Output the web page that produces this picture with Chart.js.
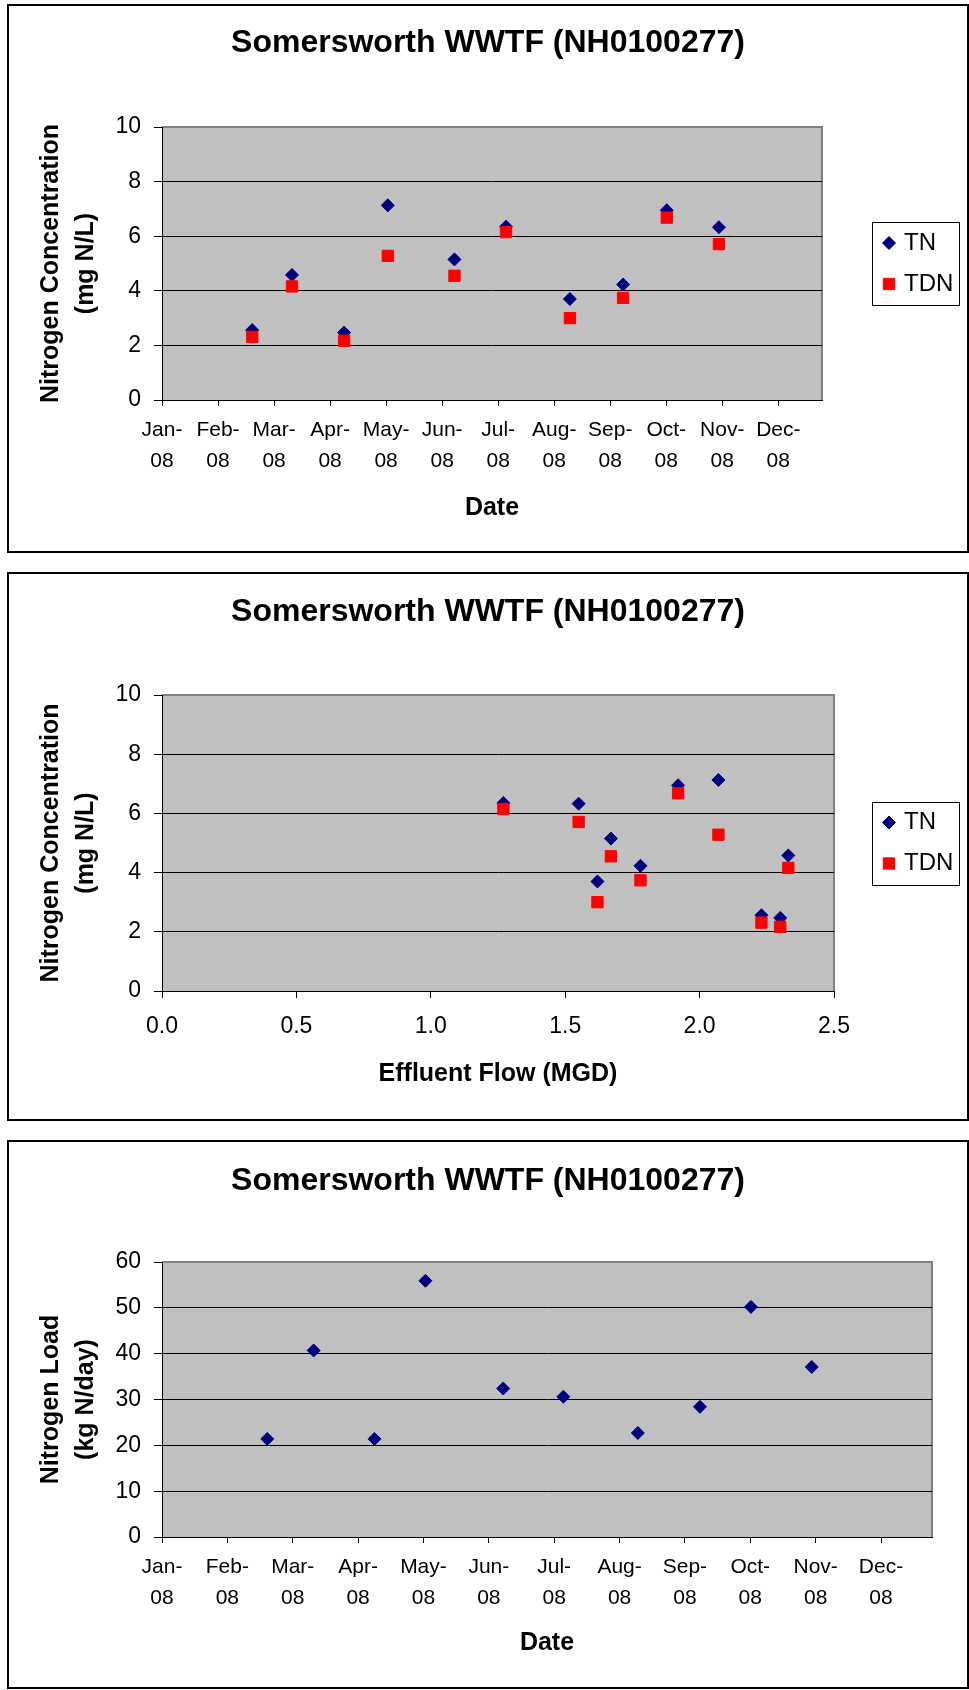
<!DOCTYPE html>
<html>
<head>
<meta charset="utf-8">
<title>Somersworth WWTF (NH0100277)</title>
<script src="https://cdn.jsdelivr.net/npm/chart.js"></script>
<style>
  body { margin: 0; background: #fff; width: 969px; height: 1690px; position: relative; overflow: hidden; }
  .box { position: absolute; left: 7px; width: 958px; height: 545px; border: 2px solid #000; background: #fff; }
  .box canvas { display: block; }
</style>
</head>
<body>
<div class="box" style="top:4px"><canvas id="concDate" width="958" height="545"></canvas></div>
<div class="box" style="top:572px"><canvas id="concFlow" width="958" height="545"></canvas></div>
<div class="box" style="top:1140px"><canvas id="loadDate" width="958" height="545"></canvas></div>
<script>
// Data (one value per monthly sample, Feb..Nov 2008)
const monthLabels = ['Jan-08', 'Feb-08', 'Mar-08', 'Apr-08', 'May-08', 'Jun-08',
                     'Jul-08', 'Aug-08', 'Sep-08', 'Oct-08', 'Nov-08', 'Dec-08'];
// sample date, as months after 1 Jan 2008
const sampleMonth = [1.61, 2.32, 3.25, 4.03, 5.22, 6.14, 7.28, 8.23, 9.01, 9.94];
const tnConc = [2.56, 4.58, 2.47, 7.13, 5.15, 6.35, 3.70, 4.23, 6.95, 6.33];
const tdnConc = [2.31, 4.16, 2.17, 5.28, 4.55, 6.15, 3.00, 3.74, 6.68, 5.71];
const effluentFlow = [2.23, 2.33, 2.30, 2.07, 1.67, 1.27, 1.62, 1.78, 1.92, 1.55];
const tnLoad = [21.4, 40.7, 21.4, 55.9, 32.4, 30.6, 22.7, 28.4, 50.2, 37.1];

const FONT = '"Liberation Sans", Arial, sans-serif';
const TITLE = 'Somersworth WWTF (NH0100277)';
const TITLE_SIZE = 32;

// Grey plot area with a grey frame on top and right (Excel 2003 look)
const plotBackground = {
    id: 'plotBackground',
    beforeDraw(chart) {
        const { ctx, chartArea: a } = chart;
        ctx.save();
        ctx.fillStyle = '#c0c0c0';
        ctx.fillRect(a.left, a.top, a.width, a.height);
        ctx.strokeStyle = '#808080';
        ctx.lineWidth = 2;
        ctx.beginPath();
        ctx.moveTo(a.left, a.top);
        ctx.lineTo(a.right, a.top);
        ctx.lineTo(a.right, a.bottom);
        ctx.stroke();
        ctx.restore();
    }
};

// Boxed legend at the right, centred on the plot area
const boxLegend = {
    id: 'boxLegend',
    afterDraw(chart, args, opts) {
        if (!opts.display) return;
        const { ctx, chartArea: a } = chart;
        const sets = chart.data.datasets;
        const cy = (a.top + a.bottom) / 2;
        ctx.save();
        ctx.strokeStyle = '#000';
        ctx.lineWidth = 1;
        ctx.strokeRect(opts.left + 0.5, Math.round(cy - opts.height / 2) + 0.5, opts.width, opts.height);
        ctx.font = opts.fontSize + 'px ' + FONT;
        ctx.textBaseline = 'middle';
        ctx.textAlign = 'left';
        sets.forEach((ds, i) => {
            const y = cy + (i - (sets.length - 1) / 2) * opts.rowHeight;
            ctx.fillStyle = ds.backgroundColor;
            ctx.strokeStyle = ds.borderColor;
            Chart.helpers.drawPoint(ctx, { pointStyle: ds.pointStyle, radius: ds.pointRadius, borderWidth: 1 },
                opts.left + 17, y);
            ctx.fillStyle = '#000';
            ctx.fillText(ds.label, opts.left + 32, y);
        });
        ctx.restore();
    }
};

function tnSet(xs, ys) {
    return {
        label: 'TN',
        data: ys.map((v, i) => ({ x: xs[i], y: v })),
        pointStyle: 'rectRot', pointRadius: 6.5,
        backgroundColor: '#000080', borderColor: '#000080', borderWidth: 1,
        order: 2
    };
}

function tdnSet(xs, ys) {
    return {
        label: 'TDN',
        data: ys.map((v, i) => ({ x: xs[i], y: v })),
        pointStyle: 'rect', pointRadius: 8,
        backgroundColor: '#ff0000', borderColor: '#ff0000', borderWidth: 1,
        order: 1
    };
}

function monthTick(v) {
    const s = monthLabels[Math.round(v)];
    if (!s) return '';
    const parts = s.split('-');
    return [parts[0] + '-', parts[1]];
}

// Common options; o holds the per-chart layout numbers
function makeOptions(o) {
    const titleLh = TITLE_SIZE * 1.2;
    const titleTop = o.titleY - titleLh / 2;
    return {
        responsive: false,
        animation: false,
        devicePixelRatio: 1,
        events: [],
        layout: { padding: { left: 10, right: 10, top: 0, bottom: 10 } },
        plugins: {
            legend: { display: false },
            tooltip: { enabled: false },
            title: {
                display: true,
                text: TITLE,
                color: '#000',
                font: { family: FONT, size: TITLE_SIZE, weight: 'bold', lineHeight: 1.2 },
                padding: { top: titleTop, bottom: o.plotTop - titleTop - titleLh }
            },
            boxLegend: { display: !!o.legend, left: 863, width: 87, height: 83, rowHeight: 41, fontSize: 24 }
        },
        scales: {
            x: {
                type: 'linear',
                min: o.xMin,
                max: o.xMax,
                afterFit: s => { s.height = o.xHeight; },
                border: { display: true, color: '#000', width: 1 },
                grid: { drawOnChartArea: false, drawTicks: true, tickLength: o.xTickLen, tickColor: '#000', color: '#000' },
                ticks: {
                    stepSize: o.xStep,
                    includeBounds: false,
                    autoSkip: false,
                    maxRotation: 0,
                    padding: o.xTickPad,
                    color: '#000',
                    font: { family: FONT, size: o.xTickSize, lineHeight: o.xTickLh },
                    callback: o.xCallback
                },
                title: {
                    display: true,
                    text: o.xTitle,
                    color: '#000',
                    font: { family: FONT, size: 25, weight: 'bold', lineHeight: 1.2 },
                    padding: { top: 0, bottom: o.xTitlePad }
                }
            },
            y: {
                min: 0,
                max: o.yMax,
                afterFit: s => { s.width = 143; },
                border: { display: true, color: '#000', width: 1 },
                grid: {
                    color: c => (c.tick && c.tick.value === o.yMax ? '#808080' : '#000'),
                    tickColor: '#000',
                    tickLength: 8,
                    lineWidth: 1
                },
                ticks: { stepSize: o.yStep, padding: 13, color: '#000', font: { family: FONT, size: 23 } },
                title: {
                    display: true,
                    text: o.yTitle,
                    color: '#000',
                    font: { family: FONT, size: 25, weight: 'bold', lineHeight: 1.4 },
                    padding: { top: 14.5, bottom: 0 }
                }
            },
            // empty right-hand box: keeps room for the legend while the title stays centred on the page
            side: {
                position: 'right',
                afterFit: s => { s.width = o.sideWidth; },
                grid: { display: false },
                border: { display: false },
                ticks: { display: false }
            }
        }
    };
}

// Concentration vs date
new Chart(document.getElementById('concDate'), {
    type: 'scatter',
    data: { datasets: [tnSet(sampleMonth, tnConc), tdnSet(sampleMonth, tdnConc)] },
    options: makeOptions({
        sideWidth: 135, titleY: 37, plotTop: 121, legend: true,
        xMin: 0, xMax: 11.78, xStep: 1, xHeight: 141, xTickLen: 6, xTickPad: 9.3,
        xTickSize: 21, xTickLh: 1.45, xCallback: monthTick, xTitle: 'Date', xTitlePad: 18,
        yMax: 10, yStep: 2, yTitle: ['Nitrogen Concentration', '(mg N/L)']
    }),
    plugins: [plotBackground, boxLegend]
});

// Concentration vs effluent flow
new Chart(document.getElementById('concFlow'), {
    type: 'scatter',
    data: { datasets: [tnSet(effluentFlow, tnConc), tdnSet(effluentFlow, tdnConc)] },
    options: makeOptions({
        sideWidth: 123, titleY: 37.8, plotTop: 121, legend: true,
        xMin: 0, xMax: 2.5, xStep: 0.5, xHeight: 118, xTickLen: 7, xTickPad: 15.2,
        xTickSize: 23, xTickLh: 1.2, xCallback: v => v.toFixed(1),
        xTitle: 'Effluent Flow (MGD)', xTitlePad: 19.5,
        yMax: 10, yStep: 2, yTitle: ['Nitrogen Concentration', '(mg N/L)']
    }),
    plugins: [plotBackground, boxLegend]
});

// Load vs date
new Chart(document.getElementById('loadDate'), {
    type: 'scatter',
    data: { datasets: [tnSet(sampleMonth, tnLoad)] },
    options: makeOptions({
        sideWidth: 25, titleY: 39, plotTop: 120, legend: false,
        xMin: 0, xMax: 11.78, xStep: 1, xHeight: 140, xTickLen: 6, xTickPad: 9.3,
        xTickSize: 21, xTickLh: 1.45, xCallback: monthTick, xTitle: 'Date', xTitlePad: 19,
        yMax: 60, yStep: 10, yTitle: ['Nitrogen Load', '(kg N/day)']
    }),
    plugins: [plotBackground]
});
</script>
</body>
</html>
